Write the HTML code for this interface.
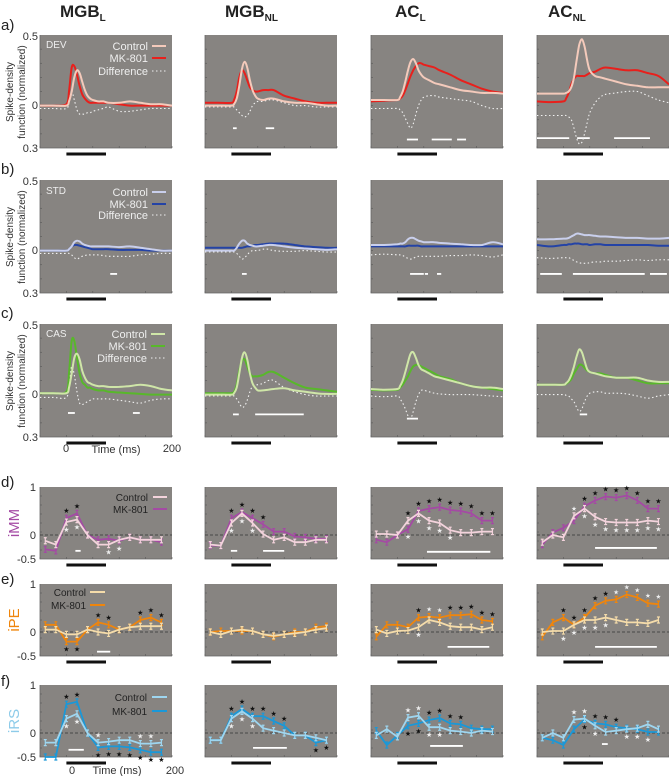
<!DOCTYPE html>
<html><head><meta charset="utf-8"><style>
html,body{margin:0;padding:0;background:#fff;width:669px;height:776px;overflow:hidden}
svg{display:block;font-family:"Liberation Sans",Arial,sans-serif}
</style></head><body>
<svg id="fig" width="669" height="776" viewBox="0 0 669 776" xmlns="http://www.w3.org/2000/svg">
<g font-weight="bold" font-size="17" fill="#222">
<text x="60" y="17">MGB<tspan font-size="10" dy="4">L</tspan></text>
<text x="225" y="17">MGB<tspan font-size="10" dy="4">NL</tspan></text>
<text x="395" y="17">AC<tspan font-size="10" dy="4">L</tspan></text>
<text x="548" y="17">AC<tspan font-size="10" dy="4">NL</tspan></text>
</g>
<g font-size="15" fill="#222">
<text x="1" y="30">a)</text>
<text x="1" y="174">b)</text>
<text x="1" y="318">c)</text>
<text x="1" y="487">d)</text>
<text x="1" y="584">e)</text>
<text x="1" y="686">f)</text>
</g>
<g id="panels"></g>
</svg>
<script>
// ---------- curve data (rows a-c) ----------
const T = [-50,-25,0,5,10,15,20,25,30,35,40,45,50,60,70,80,100,120,140,160,180,200];
const devCtl1 = [0,0,0,0.03,0.1,0.2,0.25,0.23,0.17,0.11,0.07,0.05,0.04,0.03,0.03,0.02,0.02,0.03,0.02,0.01,0.01,0];
const devMk1  = [0,0,0.01,0.1,0.27,0.28,0.22,0.14,0.08,0.05,0.03,0.02,0.02,0.02,0.02,0.02,0.01,0,0,0,0,0];
const devDif1 = [-0.02,-0.02,-0.02,0.03,0.1,0.04,-0.03,-0.06,-0.06,-0.06,-0.05,-0.05,-0.04,-0.03,-0.02,-0.01,-0.04,-0.04,-0.03,-0.02,-0.02,-0.02];
const devCtl2 = [0,0,0,0.01,0.05,0.14,0.26,0.31,0.27,0.18,0.11,0.07,0.05,0.04,0.05,0.05,0.03,0.02,0.02,0.01,0,0];
const devMk2  = [0.02,0.02,0.02,0.04,0.1,0.2,0.25,0.23,0.18,0.13,0.11,0.1,0.1,0.11,0.11,0.11,0.07,0.05,0.03,0.02,0.02,0.02];
const devDif2 = [-0.01,-0.01,-0.01,-0.01,-0.03,-0.05,-0.07,-0.08,-0.07,-0.04,0,0.02,0.03,0.03,0.04,0.04,0.02,0,0,-0.01,-0.01,-0.01];
const devCtl3 = [0.04,0.04,0.04,0.06,0.1,0.17,0.25,0.31,0.33,0.3,0.25,0.22,0.2,0.18,0.16,0.15,0.13,0.11,0.1,0.09,0.09,0.085];
const devMk3  = [0.03,0.035,0.04,0.05,0.07,0.11,0.16,0.21,0.25,0.28,0.3,0.3,0.29,0.28,0.27,0.25,0.22,0.18,0.15,0.12,0.1,0.09];
const devDif3 = [-0.02,-0.02,-0.02,-0.03,-0.05,-0.09,-0.13,-0.16,-0.13,-0.06,0,0.04,0.06,0.07,0.07,0.06,0.05,0.04,0.03,0,-0.02,-0.02];
const devCtl4 = [0.085,0.085,0.085,0.09,0.1,0.13,0.2,0.32,0.43,0.47,0.42,0.32,0.25,0.21,0.2,0.19,0.17,0.15,0.14,0.13,0.13,0.13];
const devMk4  = [0.03,0.025,0.03,0.05,0.09,0.15,0.19,0.21,0.21,0.21,0.21,0.22,0.23,0.24,0.26,0.27,0.26,0.25,0.25,0.23,0.21,0.15];
const devDif4 = [-0.07,-0.07,-0.07,-0.07,-0.08,-0.1,-0.16,-0.23,-0.27,-0.26,-0.2,-0.12,-0.05,0.02,0.06,0.08,0.09,0.1,0.1,0.07,0.04,0.02];
const stdCtl1 = [0,0,0,0.01,0.03,0.06,0.07,0.065,0.05,0.04,0.035,0.03,0.03,0.03,0.03,0.03,0.025,0.03,0.02,0.01,0,0];
const stdMk1  = [0,0,0,0.01,0.03,0.04,0.04,0.035,0.03,0.025,0.02,0.015,0.01,0.01,0.01,0.01,0.005,0.005,0.005,0,0,0];
const stdDif1 = [-0.02,-0.02,-0.02,-0.02,-0.03,-0.05,-0.06,-0.05,-0.04,-0.035,-0.03,-0.03,-0.03,-0.03,-0.035,-0.04,-0.04,-0.04,-0.03,-0.025,-0.02,-0.02];
const stdCtl2 = [0,0,0,0,0.02,0.05,0.07,0.07,0.05,0.04,0.035,0.03,0.03,0.035,0.04,0.04,0.03,0.02,0.015,0.01,0.005,0.01];
const stdMk2  = [0.02,0.02,0.02,0.02,0.02,0.02,0.02,0.025,0.03,0.03,0.035,0.04,0.04,0.045,0.05,0.05,0.05,0.04,0.03,0.025,0.02,0.02];
const stdDif2 = [-0.01,-0.01,-0.01,-0.01,-0.02,-0.04,-0.06,-0.05,-0.03,-0.01,0,0,0,0.01,0.01,0,-0.005,-0.005,0,-0.005,-0.01,-0.01];
const stdCtl3 = [0.04,0.04,0.045,0.05,0.05,0.06,0.08,0.09,0.09,0.08,0.07,0.065,0.06,0.06,0.06,0.055,0.05,0.045,0.04,0.04,0.06,0.045];
const stdMk3  = [0.03,0.03,0.03,0.03,0.03,0.03,0.035,0.035,0.035,0.035,0.035,0.03,0.03,0.03,0.03,0.03,0.03,0.03,0.03,0.03,0.03,0.03];
const stdDif3 = [-0.03,-0.025,-0.03,-0.03,-0.035,-0.045,-0.055,-0.06,-0.055,-0.045,-0.04,-0.04,-0.04,-0.04,-0.04,-0.04,-0.035,-0.035,-0.03,-0.035,-0.045,-0.03];
const stdCtl4 = [0.08,0.08,0.085,0.085,0.09,0.1,0.11,0.12,0.12,0.115,0.11,0.11,0.11,0.105,0.1,0.1,0.095,0.09,0.09,0.085,0.085,0.09];
const stdMk4  = [0.04,0.03,0.04,0.04,0.045,0.045,0.05,0.05,0.05,0.045,0.045,0.045,0.04,0.045,0.045,0.04,0.04,0.04,0.04,0.04,0.035,0.035];
const stdDif4 = [-0.05,-0.055,-0.05,-0.05,-0.05,-0.06,-0.07,-0.08,-0.085,-0.09,-0.09,-0.09,-0.085,-0.08,-0.08,-0.075,-0.075,-0.07,-0.065,-0.07,-0.065,-0.065];
const casCtl1 = [0.01,0.01,0.01,0.05,0.15,0.26,0.29,0.25,0.17,0.12,0.09,0.08,0.07,0.06,0.06,0.055,0.055,0.06,0.07,0.06,0.04,0.03];
const casMk1  = [0.01,0.01,0.02,0.15,0.38,0.38,0.26,0.15,0.09,0.07,0.05,0.05,0.04,0.03,0.03,0.02,0.015,0.01,0.005,0,0,0];
const casDif1 = [-0.02,-0.02,-0.02,0.08,0.2,0.14,0.02,-0.06,-0.07,-0.06,-0.05,-0.04,-0.03,-0.03,-0.03,-0.03,-0.04,-0.05,-0.06,-0.04,-0.03,-0.03];
const casCtl2 = [0,0,0,0.01,0.05,0.15,0.26,0.3,0.25,0.15,0.08,0.05,0.03,0.03,0.035,0.04,0.045,0.03,0.02,0.01,0.005,0.005];
const casMk2  = [0.01,0.01,0.01,0.02,0.07,0.17,0.24,0.25,0.2,0.15,0.13,0.13,0.13,0.14,0.16,0.16,0.12,0.08,0.05,0.04,0.03,0.02];
const casDif2 = [-0.01,-0.01,-0.01,-0.01,-0.03,-0.06,-0.09,-0.08,-0.04,0.02,0.06,0.07,0.07,0.08,0.1,0.1,0.05,0.02,0,-0.01,-0.01,-0.01];
const casCtl3 = [0.04,0.035,0.04,0.06,0.1,0.16,0.23,0.29,0.3,0.26,0.21,0.18,0.17,0.15,0.13,0.12,0.1,0.08,0.06,0.05,0.05,0.04];
const casMk3  = [0.035,0.03,0.035,0.05,0.07,0.1,0.13,0.17,0.2,0.21,0.21,0.2,0.19,0.17,0.15,0.13,0.11,0.08,0.06,0.05,0.04,0.03];
const casDif3 = [-0.01,-0.015,-0.01,-0.03,-0.06,-0.1,-0.15,-0.17,-0.12,-0.05,0,0.03,0.03,0.02,0.01,0.005,0,0,0,-0.005,-0.01,-0.015];
const casCtl4 = [0.07,0.07,0.07,0.08,0.1,0.14,0.2,0.27,0.32,0.3,0.24,0.18,0.16,0.15,0.14,0.13,0.12,0.12,0.12,0.1,0.09,0.09];
const casMk4  = [0.07,0.07,0.07,0.075,0.09,0.11,0.15,0.18,0.21,0.21,0.19,0.17,0.16,0.15,0.15,0.14,0.12,0.12,0.1,0.08,0.08,0.08];
const casDif4 = [0,0,0,-0.005,-0.01,-0.03,-0.05,-0.09,-0.12,-0.1,-0.05,-0.01,0.01,0.02,0.02,0.01,0.01,0.005,-0.01,-0.025,-0.01,0];
// significance bars (ms ranges)
const devSig1 = [], devSig2 = [[3,10],[65,81]], devSig3 = [[18,39],[65,103],[113,130]], devSig4 = [[-50,11],[26,50],[96,164]];
const stdSig1 = [[83,96]], stdSig2 = [[20,29]], stdSig3 = [[24,50],[52,58],[75,83]], stdSig4 = [[-44,-3],[18,154],[164,196]];
const casSig1 = [[3,16],[126,139]], casSig2 = [[3,14],[45,137]], casSig3 = [[18,39]], casSig4 = [[31,45]];
const curveSigLevel = [[0,-0.16,-0.24,-0.23],[-0.165,-0.165,-0.165,-0.165],[-0.13,-0.14,-0.17,-0.14]];
// ---------- index data (rows d-f) ----------
const PT = [-40,-20,0,20,40,60,80,100,120,140,160,180];
const immCtl1 = [-0.12,-0.2,0.27,0.32,0.0,-0.2,-0.2,-0.1,-0.05,-0.1,-0.1,-0.1];
const immMk1  = [-0.3,-0.33,0.35,0.45,0.0,-0.1,-0.08,-0.12,-0.05,-0.1,-0.1,-0.15];
const immCtl2 = [-0.2,-0.22,0.25,0.45,0.25,0.02,-0.1,-0.05,-0.15,-0.15,-0.1,-0.1];
const immMk2  = [-0.22,-0.22,0.35,0.48,0.35,0.22,0.07,0.07,-0.03,-0.05,-0.08,-0.08];
const immCtl3 = [0.02,0.02,0.0,0.3,0.45,0.3,0.25,0.1,0.05,0.05,0.07,0.07];
const immMk3  = [-0.1,-0.15,0.0,0.12,0.5,0.55,0.58,0.52,0.5,0.45,0.3,0.3];
const immCtl4 = [-0.15,0.0,-0.05,0.4,0.55,0.38,0.28,0.26,0.26,0.26,0.3,0.28];
const immMk4  = [-0.2,0.05,0.15,0.3,0.6,0.72,0.8,0.78,0.82,0.72,0.55,0.55];
const ipeCtl1 = [0.05,0.05,-0.05,-0.05,0.05,0.0,-0.03,0.05,0.1,0.12,0.12,0.12];
const ipeMk1  = [0.15,0.15,-0.2,-0.2,0.05,0.2,0.15,0.05,0.1,0.25,0.3,0.2];
const ipeCtl2 = [0.0,-0.05,0.02,0.05,0.02,-0.05,-0.08,-0.05,-0.03,0.0,0.05,0.08];
const ipeMk2  = [0.0,0.02,0.02,0.02,0.02,-0.05,-0.1,-0.05,0.0,0.0,0.1,0.12];
const ipeCtl3 = [0.05,-0.03,0.02,0.03,0.1,0.25,0.2,0.12,0.1,0.1,0.05,0.1];
const ipeMk3  = [-0.1,0.15,0.15,0.1,0.3,0.32,0.3,0.35,0.35,0.37,0.25,0.22];
const ipeCtl4 = [0.0,0.02,0.02,0.15,0.25,0.25,0.3,0.25,0.2,0.2,0.18,0.25];
const ipeMk4  = [-0.1,0.2,0.3,0.15,0.3,0.55,0.65,0.68,0.78,0.72,0.6,0.58];
const irsCtl1 = [-0.2,-0.2,0.3,0.4,0.0,-0.2,-0.18,-0.15,-0.15,-0.22,-0.22,-0.2];
const irsMk1  = [-0.5,-0.5,0.6,0.65,0.0,-0.3,-0.28,-0.28,-0.3,-0.35,-0.4,-0.4];
const irsCtl2 = [-0.15,-0.15,0.3,0.45,0.3,0.1,0.05,0.0,-0.05,-0.05,-0.1,-0.15];
const irsMk2  = [-0.15,-0.15,0.35,0.5,0.35,0.35,0.25,0.15,-0.05,-0.05,-0.2,-0.15];
const irsCtl3 = [-0.05,0.08,-0.08,0.32,0.36,0.12,0.12,0.05,0.03,0.0,0.05,0.03];
const irsMk3  = [0.05,-0.25,-0.05,0.15,0.2,0.27,0.31,0.2,0.18,0.1,0.08,0.08];
const irsCtl4 = [-0.1,0.0,-0.1,0.28,0.3,0.15,0.02,0.05,0.08,0.1,0.18,0.08];
const irsMk4  = [-0.1,-0.15,-0.25,0.08,0.28,0.2,0.18,0.12,0.1,0.08,0.02,0.02];
const immStars = [[[2,3],[],[2,3,6,7],[]],[[2,3,4,5],[],[2,3,4],[]],[[3,4,5,6,7,8,9,10,11],[],[3,4,5,6,7],[]],[[3,4,5,6,7,8,9,10,11],[],[4,5,6,7,8,9,10,11],[3]]];
const ipeStars = [[[5,6,9,10,11],[2,3],[],[]],[[],[],[],[]],[[4,5,6,7,8,9,10,11],[],[4],[5,6]],[[2,3,4,5,6,7,8,9,10,11],[],[2,3,4,5,6],[7,8,9,10,11]]];
const irsStars = [[[2,3],[5,6,7,8,9,10,11],[2,3],[5,9,10]],[[2,3,4,5,6,7],[10,11],[2,3,4],[]],[[5,6,7,8],[3,4],[5,6],[3,4]],[[5,6,7],[4],[5,8,9,10],[3,4]]];
const immSig = [[[17,27]],[[-1,11],[60,100]],[[56,176]],[[60,177]]];
const ipeSig = [[[58,83]],[],[[95,174]],[[60,177]]];
const irsSig = [[[4,33]],[[41,105]],[[62,124]],[[73,84]]];
const idxSigLevel = [[-0.33,-0.33,-0.35,-0.27],[-0.41,-0.4,-0.31,-0.31],[-0.35,-0.31,-0.27,-0.23]];

// ---------- layout ----------
const NS = "http://www.w3.org/2000/svg";
const root = document.getElementById('panels');
const colLeft = [40,205,371,537], PW = 132;
const curveTop = [35,180,324], CH = 113;
const idxTop = [487,584,685], IH = 72;
const BG = "#878481";
function el(tag, attrs, parent){ const e=document.createElementNS(NS,tag); for(const k in attrs) e.setAttribute(k,attrs[k]); (parent||root).appendChild(e); return e; }
function xs(c,t){ return colLeft[c] + (t+50)*PW/250; }
function yc(r,v){ return curveTop[r] + (0.5-v)*CH/0.8; }
function yi(r,v){ return idxTop[r] + (1-v)*IH/1.5; }
function smooth(pts){
  let d="M"+pts[0][0].toFixed(1)+","+pts[0][1].toFixed(1);
  for(let i=0;i<pts.length-1;i++){
    const p0=pts[Math.max(0,i-1)],p1=pts[i],p2=pts[i+1],p3=pts[Math.min(pts.length-1,i+2)];
    const c1=[p1[0]+(p2[0]-p0[0])/6,p1[1]+(p2[1]-p0[1])/6], c2=[p2[0]-(p3[0]-p1[0])/6,p2[1]-(p3[1]-p1[1])/6];
    d+="C"+c1.map(v=>v.toFixed(1))+" "+c2.map(v=>v.toFixed(1))+" "+p2[0].toFixed(1)+","+p2[1].toFixed(1);
  }
  return d;
}
function panelFrame(c,top,h,name){
  const g=el('g',{});
  
  
  const r=el('rect',{x:colLeft[c],y:top,width:PW,height:h,fill:BG},g);
  
  
  for(let t=-50;t<=200;t+=50){
    const tk=el('line',{x1:xs(c,t),x2:xs(c,t),y1:top+h-2,y2:top+h,stroke:"#555","stroke-width":0.6},g);
    
    
  }
  for(let i=1;i<8;i++){
    const tk=el('line',{x1:colLeft[c],x2:colLeft[c]+2,y1:top+i*h/8,y2:top+i*h/8,stroke:"#555","stroke-width":0.6},g);
    
    
  }
  const ax=el('path',{d:`M${colLeft[c]},${top}V${top+h}H${colLeft[c]+PW}`,stroke:"#666","stroke-width":0.8,fill:"none"},g);
  
  
  const sb=el('line',{x1:xs(c,0),x2:xs(c,75),y1:top+h+6,y2:top+h+6,stroke:"#111","stroke-width":3},g);
  
  
  return g;
}
function sigBars(g,c,level,ranges,ymap){
  for(const rg of ranges){
    const s=el('line',{x1:xs(c,rg[0]),x2:xs(c,rg[1]),y1:ymap(level),y2:ymap(level),stroke:"#fff","stroke-width":1.8},g);
    
    
  }
}
const curveSets = [
  {name:'dev',ctlC:'#f4cabb',mkC:'#e8201c',data:[[devCtl1,devMk1,devDif1,devSig1],[devCtl2,devMk2,devDif2,devSig2],[devCtl3,devMk3,devDif3,devSig3],[devCtl4,devMk4,devDif4,devSig4]]},
  {name:'std',ctlC:'#c9cfec',mkC:'#2443a6',data:[[stdCtl1,stdMk1,stdDif1,stdSig1],[stdCtl2,stdMk2,stdDif2,stdSig2],[stdCtl3,stdMk3,stdDif3,stdSig3],[stdCtl4,stdMk4,stdDif4,stdSig4]]},
  {name:'cas',ctlC:'#cfe6a8',mkC:'#58b82a',data:[[casCtl1,casMk1,casDif1,casSig1],[casCtl2,casMk2,casDif2,casSig2],[casCtl3,casMk3,casDif3,casSig3],[casCtl4,casMk4,casDif4,casSig4]]}
];
curveSets.forEach((set,r)=>{
  set.data.forEach((d,c)=>{
    const g=panelFrame(c,curveTop[r],CH,set.name+'-panel-'+(c+1));
    const ym=v=>yc(r,v);
    sigBars(g,c,curveSigLevel[r][c],d[3],ym);
    const dif=el('path',{d:smooth(T.map((t,i)=>[xs(c,t),ym(d[2][i])])),stroke:"#f2f2f2","stroke-width":1.1,"stroke-dasharray":"1.5,2.5",fill:"none"},g);
    
    
    const mk=el('path',{d:smooth(T.map((t,i)=>[xs(c,t),ym(d[1][i])])),stroke:set.mkC,"stroke-width":2,fill:"none"},g);
    
    
    const ct=el('path',{d:smooth(T.map((t,i)=>[xs(c,t),ym(d[0][i])])),stroke:set.ctlC,"stroke-width":2,fill:"none"},g);
    
    
  });
});
const idxSets = [
  {name:'imm',ctlC:'#f3d3dc',mkC:'#a44aa4',data:[[immCtl1,immMk1],[immCtl2,immMk2],[immCtl3,immMk3],[immCtl4,immMk4]],stars:immStars,sig:immSig},
  {name:'ipe',ctlC:'#f5dcaa',mkC:'#ef850c',data:[[ipeCtl1,ipeMk1],[ipeCtl2,ipeMk2],[ipeCtl3,ipeMk3],[ipeCtl4,ipeMk4]],stars:ipeStars,sig:ipeSig},
  {name:'irs',ctlC:'#9ed6f0',mkC:'#1a98d8',data:[[irsCtl1,irsMk1],[irsCtl2,irsMk2],[irsCtl3,irsMk3],[irsCtl4,irsMk4]],stars:irsStars,sig:irsSig}
];
function series(g,c,vals,ym,col,nm){
  const pts=PT.map((t,i)=>[xs(c,t),ym(vals[i])]);
  const pl=el('polyline',{points:pts.map(p=>p[0].toFixed(1)+','+p[1].toFixed(1)).join(' '),stroke:col,"stroke-width":1.8,fill:"none"},g);
  
  
  pts.forEach(p=>{
    const eb=el('path',{d:`M${p[0]},${p[1]-3}V${p[1]+3}M${p[0]-1.5},${p[1]-3}H${p[0]+1.5}M${p[0]-1.5},${p[1]+3}H${p[0]+1.5}`,stroke:col,"stroke-width":1.2,fill:"none"},g);
    
    
  });
}
function star(g,x,y,col){
  const s=el('text',{x:x,y:y,fill:col,"font-size":7,"text-anchor":"middle"},g);
  s.textContent='★';
  
  
}
idxSets.forEach((set,r)=>{
  set.data.forEach((d,c)=>{
    const g=panelFrame(c,idxTop[r],IH,set.name+'-panel-'+(c+1));
    const ym=v=>yi(r,v);
    const z=el('line',{x1:colLeft[c],x2:colLeft[c]+PW,y1:ym(0),y2:ym(0),stroke:"#333","stroke-width":0.8,"stroke-dasharray":"3,2"},g);
    
    
    sigBars(g,c,idxSigLevel[r][c],set.sig[c],ym);
    series(g,c,d[1],ym,set.mkC,'mk801');
    series(g,c,d[0],ym,set.ctlC,'control');
    const st=set.stars[c];
    st[0].forEach(i=>star(g,xs(c,PT[i]),ym(Math.max(d[0][i],d[1][i]))-5,'#111'));
    st[1].forEach(i=>star(g,xs(c,PT[i]),ym(Math.min(d[0][i],d[1][i]))+10,'#111'));
    st[2].forEach(i=>star(g,xs(c,PT[i]),ym(Math.min(d[0][i],d[1][i]))+10,'#eee'));
    st[3].forEach(i=>star(g,xs(c,PT[i]),ym(Math.max(d[0][i],d[1][i]))-5,'#eee'));
  });
});
</script>
<svg width="669" height="776" style="position:absolute;left:0;top:0;font-family:'Liberation Sans',Arial,sans-serif" xmlns="http://www.w3.org/2000/svg">
<g font-size="11" fill="#333" text-anchor="end">
<text x="38" y="40">0.5</text><text x="38" y="109">0</text><text x="38" y="152">0.3</text>
<text x="38" y="185">0.5</text><text x="38" y="254">0</text><text x="38" y="297">0.3</text>
<text x="38" y="329">0.5</text><text x="38" y="398">0</text><text x="38" y="441">0.3</text>
<text x="36" y="491">1</text><text x="36" y="539">0</text><text x="36" y="563">-0.5</text>
<text x="36" y="588">1</text><text x="36" y="636">0</text><text x="36" y="660">-0.5</text>
<text x="36" y="689">1</text><text x="36" y="737">0</text><text x="36" y="761">-0.5</text>
</g>
<g font-size="10" fill="#333" text-anchor="middle">
<text transform="translate(13,92) rotate(-90)">Spike-density</text>
<text transform="translate(25,92) rotate(-90)">function (normalized)</text>
<text transform="translate(13,237) rotate(-90)">Spike-density</text>
<text transform="translate(25,237) rotate(-90)">function (normalized)</text>
<text transform="translate(13,381) rotate(-90)">Spike-density</text>
<text transform="translate(25,381) rotate(-90)">function (normalized)</text>
</g>
<g font-size="15" text-anchor="middle">
<text transform="translate(19,523) rotate(-90)" fill="#a44aa4">iMM</text>
<text transform="translate(19,620) rotate(-90)" fill="#ef850c">iPE</text>
<text transform="translate(19,721) rotate(-90)" fill="#8dcbe9">iRS</text>
</g>
<g font-size="11" fill="#333" text-anchor="middle">
<text x="66" y="452">0</text><text x="116" y="453">Time (ms)</text><text x="172" y="452">200</text>
<text x="72" y="774">0</text><text x="117" y="774">Time (ms)</text><text x="175" y="774">200</text>
</g>
<g font-size="11" fill="#eee" text-anchor="end">
<text x="46" y="48" text-anchor="start" font-size="10">DEV</text>
<text x="148" y="50">Control</text><line x1="152" x2="166" y1="46" y2="46" stroke="#f4cabb" stroke-width="2"/>
<text x="148" y="62">MK-801</text><line x1="152" x2="166" y1="58" y2="58" stroke="#e8201c" stroke-width="2"/>
<text x="148" y="75">Difference</text><line x1="152" x2="166" y1="71" y2="71" stroke="#eee" stroke-width="1.1" stroke-dasharray="1.5,2.5"/>
</g>
<g font-size="11" fill="#eee" text-anchor="end">
<text x="46" y="194" text-anchor="start" font-size="10">STD</text>
<text x="148" y="196">Control</text><line x1="152" x2="166" y1="192" y2="192" stroke="#c9cfec" stroke-width="2"/>
<text x="148" y="208">MK-801</text><line x1="152" x2="166" y1="204" y2="204" stroke="#2443a6" stroke-width="2"/>
<text x="148" y="219">Difference</text><line x1="152" x2="166" y1="215" y2="215" stroke="#eee" stroke-width="1.1" stroke-dasharray="1.5,2.5"/>
</g>
<g font-size="11" fill="#eee" text-anchor="end">
<text x="46" y="337" text-anchor="start" font-size="10">CAS</text>
<text x="147" y="338">Control</text><line x1="151" x2="165" y1="334" y2="334" stroke="#cfe6a8" stroke-width="2"/>
<text x="147" y="350">MK-801</text><line x1="151" x2="165" y1="346" y2="346" stroke="#58b82a" stroke-width="2"/>
<text x="147" y="362">Difference</text><line x1="151" x2="165" y1="358" y2="358" stroke="#eee" stroke-width="1.1" stroke-dasharray="1.5,2.5"/>
</g>
<g font-size="10" fill="#222" text-anchor="end">
<text x="148" y="501">Control</text><line x1="153" x2="167" y1="497" y2="497" stroke="#f3d3dc" stroke-width="2"/>
<text x="148" y="513">MK-801</text><line x1="153" x2="167" y1="509" y2="509" stroke="#a44aa4" stroke-width="2"/>
</g>
<g font-size="10" fill="#222" text-anchor="end">
<text x="86" y="596">Control</text><line x1="90" x2="105" y1="592" y2="592" stroke="#f5dcaa" stroke-width="2"/>
<text x="86" y="609">MK-801</text><line x1="90" x2="105" y1="605" y2="605" stroke="#ef850c" stroke-width="2"/>
</g>
<g font-size="10" fill="#222" text-anchor="end">
<text x="147" y="701">Control</text><line x1="152" x2="167" y1="697" y2="697" stroke="#9ed6f0" stroke-width="2"/>
<text x="147" y="715">MK-801</text><line x1="152" x2="167" y1="711" y2="711" stroke="#1a98d8" stroke-width="2"/>
</g>
</svg>
</body></html>
